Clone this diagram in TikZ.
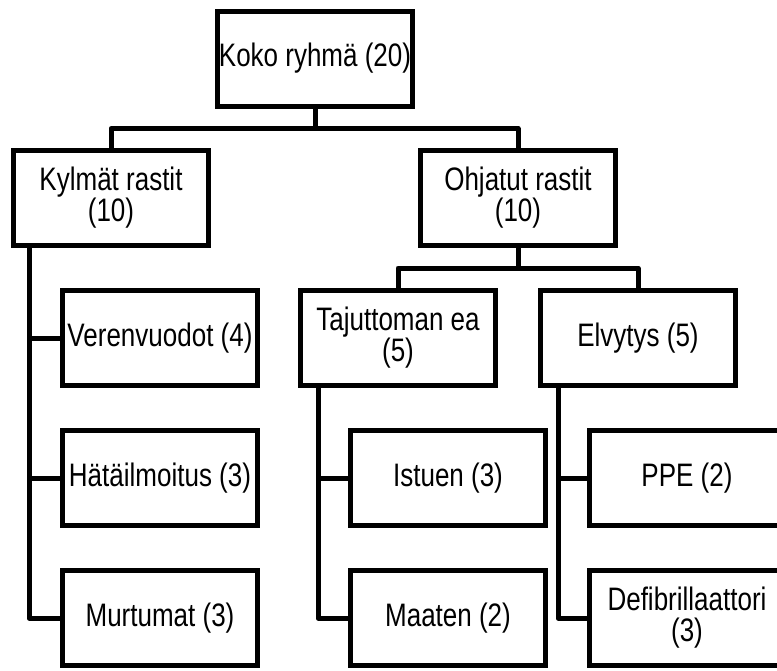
\documentclass[tikz,border=0pt]{standalone}
\usepackage{fontspec}
\setmainfont{Liberation Sans}[FakeStretch=0.8]
\usetikzlibrary{positioning}

\tikzset{
    unit/.style={draw, line width=5pt, minimum width=195pt, minimum height=95pt,
        inner sep=0pt, align=center, font=\fontsize{32.5}{31}\selectfont},
    link/.style={line width=5pt, line join=round}
}

\begin{document}
\begin{tikzpicture}[x=1pt, y=-1pt]
    \useasboundingbox (0,0) rectangle (777,670);

    % Top level
    \node[unit] (koko) at (315,58.5) {Koko ryhmä (20)};

    % Second level
    \node[unit] (kylmat) at (111,198) {Kylmät rastit\\(10)};
    \node[unit] (ohjatut) at (518,198) {Ohjatut rastit\\(10)};

    % Cold stations
    \node[unit] (veren) at (160,338) {Verenvuodot (4)};
    \node[unit] (hata) at (160,478) {Hätäilmoitus (3)};
    \node[unit] (murtu) at (160,618) {Murtumat (3)};

    % Guided stations
    \node[unit] (tajut) at (398,338) {Tajuttoman ea\\(5)};
    \node[unit] (elvy) at (638,338) {Elvytys (5)};
    \node[unit] (istuen) at (448,478) {Istuen (3)};
    \node[unit] (maaten) at (448,618) {Maaten (2)};
    \node[unit] (ppe) at (687,478) {PPE (2)};
    \node[unit] (defib) at (687,618) {Defibrillaattori\\(3)};

    % Forks
    \draw[link] (koko.south) -- ++(0,20) -| (kylmat.north);
    \draw[link] (koko.south) -- ++(0,20) -| (ohjatut.north);
    \draw[link] (ohjatut.south) -- ++(0,20) -| (tajut.north);
    \draw[link] (ohjatut.south) -- ++(0,20) -| (elvy.north);

    % Side branches
    \foreach \c in {veren,hata,murtu}
        \draw[link] ([xshift=18pt]kylmat.south west) |- (\c.west);
    \foreach \c in {istuen,maaten}
        \draw[link] ([xshift=20pt]tajut.south west) |- (\c.west);
    \foreach \c in {ppe,defib}
        \draw[link] ([xshift=20pt]elvy.south west) |- (\c.west);
\end{tikzpicture}
\end{document}
